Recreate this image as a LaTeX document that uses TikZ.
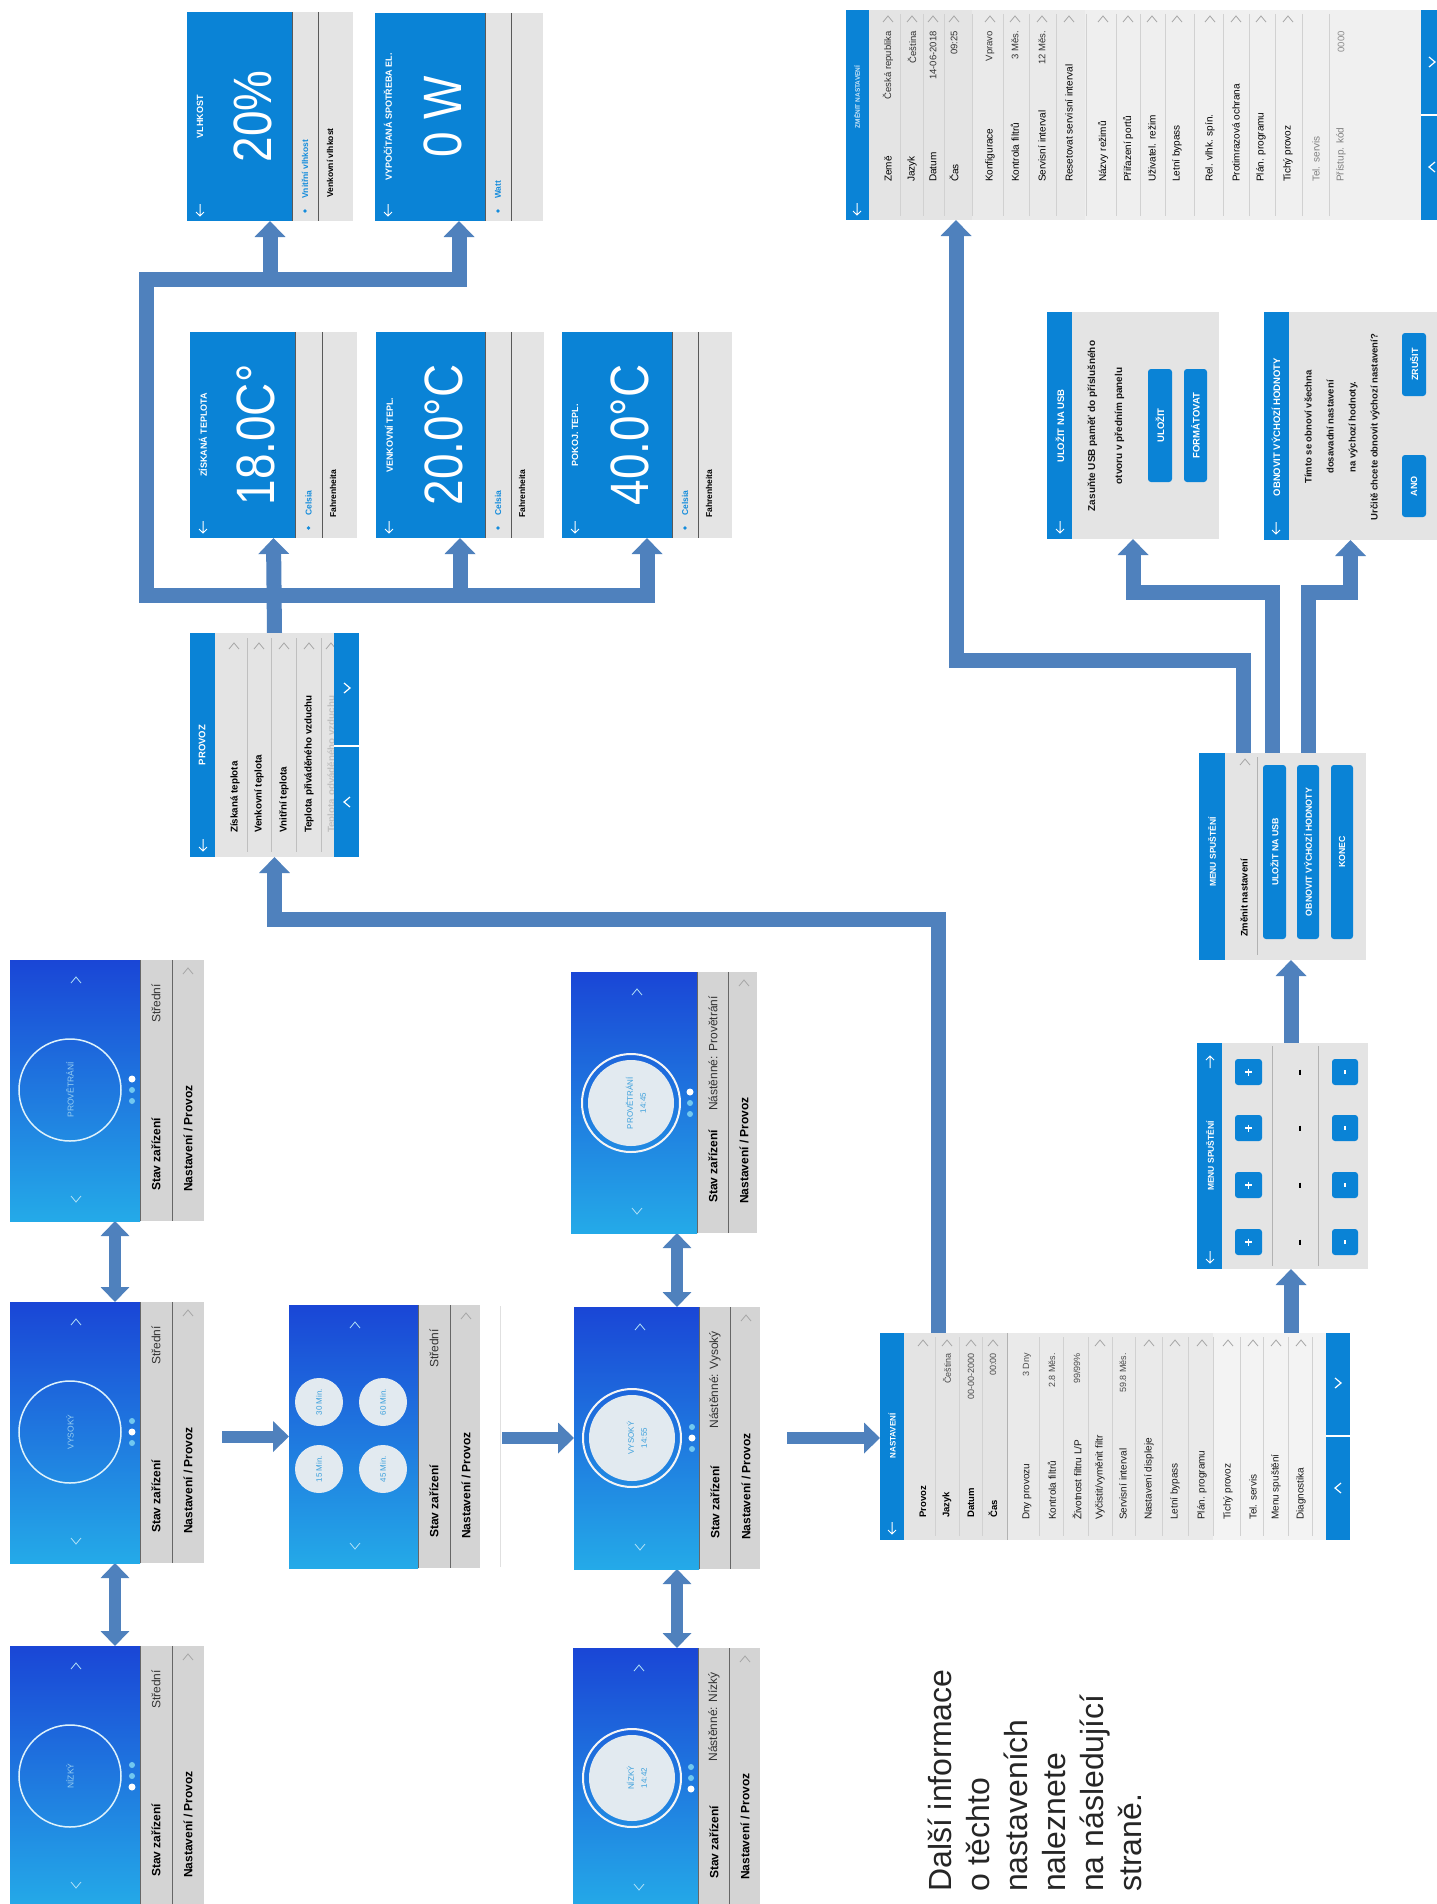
\documentclass[tikz,border=0pt]{standalone}
\usepackage{fontspec}
\setmainfont{Liberation Sans}
\newfontfamily\thinfont[FakeStretch=0.85]{Liberation Sans}
\usetikzlibrary{arrows.meta,fit}

\definecolor{scrblue}{RGB}{10,131,214}
\definecolor{panel}{RGB}{228,228,228}
\definecolor{photo}{RGB}{234,234,234}
\definecolor{stripgray}{RGB}{212,212,212}
\definecolor{hometop}{RGB}{26,70,214}
\definecolor{homebot}{RGB}{36,170,232}
\definecolor{arrowblue}{RGB}{79,129,189}
\definecolor{optblue}{RGB}{20,140,220}
\definecolor{ringtext}{RGB}{150,205,240}
\definecolor{circfill}{RGB}{226,234,240}
\definecolor{circtext}{RGB}{60,160,220}

\newcommand{\fsz}[1]{\fontsize{#1}{#1}\selectfont}
% small glyphs drawn as lines
\newcommand{\chup}[3][]{\draw[chev,#1] (#2-5,#3+3) -- (#2,#3-3) -- (#2+5,#3+3);}
\newcommand{\chdown}[3][]{\draw[chev,#1] (#2-5,#3-3) -- (#2,#3+3) -- (#2+5,#3-3);}
\newcommand{\chright}[3][]{\draw[chev,#1] (#2-3,#3-5) -- (#2+3,#3) -- (#2-3,#3+5);}
\newcommand{\chleft}[3][]{\draw[chev,#1] (#2+3,#3-5) -- (#2-3,#3) -- (#2+3,#3+5);}
\newcommand{\backarr}[2]{\draw[wline] (#1,#2-6) -- (#1,#2+6) (#1-4,#2+2) -- (#1,#2+6) -- (#1+4,#2+2);}
\newcommand{\uparr}[2]{\draw[wline] (#1,#2+6) -- (#1,#2-6) (#1-4,#2-2) -- (#1,#2-6) -- (#1+4,#2-2);}
% home screen: x0, top, blue end, divider, x1, bottom, status text
\newcommand{\homebase}[7]{%
  \shade[top color=hometop, bottom color=homebot] (#1,#2) rectangle (#3,#6);
  \fill[stripgray] (#3,#2) rectangle (#5,#6);
  \draw[black!60, line width=0.8pt] (#3,#2) -- (#3,#6) (#4,#2) -- (#4,#6);
  \chup[white!65!homebot]{#1+66}{#2+20}
  \chdown[white!65!homebot]{#1+66}{#6-22}
  \chup{#4+16}{#2+11}
  \node[lab, font=\bfseries\fsz{12}] at (#3+16,#6-30) {Stav zařízení};
  \node[lab, font=\bfseries\fsz{12}] at (#4+16,#6-29) {Nastavení / Provoz};
  \node[txt, anchor=east, text=black!80, font=\fsz{12}] at (#3+16,#2+24) {#7};
}
% value screen: x0, blue end, divider, x1, top, bottom, title, value, option
\newcommand{\valscr}[9]{%
  \fill[scrblue] (#1,#5) rectangle (#2,#6);
  \fill[panel] (#2,#5) rectangle (#4,#6);
  \draw[black!65, line width=0.8pt] (#2,#5) -- (#2,#6) (#3,#5) -- (#3,#6);
  \node[hd] at (#1+13,#5/2+#6/2) {#7};
  \node[bigval] at (#1/2+#2/2+13,#5/2+#6/2) {#8};
  \backarr{#1+13}{#6-11}
  \fill[optblue] (#2/2+#3/2,#6-10) circle (1.8);
  \node[lab, text=optblue, font=\bfseries\fsz{8.5}] at (#2/2+#3/2,#6-22) {#9};
}

\tikzset{
  scrframe/.style={inner sep=0pt, outer sep=0pt},
  txt/.style={rotate=90, inner sep=0pt},
  hd/.style={txt, text=white, font=\bfseries\fsz{9}},
  lab/.style={txt, anchor=west, font=\bfseries\fsz{9.5}},
  val/.style={txt, anchor=east, text=black!70, font=\fsz{9}},
  plab/.style={txt, anchor=west, text=black!90, font=\fsz{10}},
  btn/.style={fill=scrblue, rounded corners=3pt},
  btntxt/.style={txt, text=white, font=\bfseries\fsz{9}},
  chev/.style={black!35, line width=0.8pt},
  wline/.style={white, line width=1pt},
  rowline/.style={black!18, line width=0.6pt},
  bigval/.style={txt, text=white, font=\thinfont\fsz{54}},
  flow/.style={draw=arrowblue, line width=15pt, arrows={-Triangle[width=30pt,length=16pt]}},
  flowh/.style={draw=arrowblue, line width=12pt, arrows={-Triangle[width=30pt,length=16pt]}},
  dflow/.style={draw=arrowblue, line width=12pt, arrows={Triangle[width=28pt,length=15pt]-Triangle[width=28pt,length=15pt]}}
}

\begin{document}
\begin{tikzpicture}[x=1pt, y=-1pt]
\useasboundingbox (0,0) rectangle (1437,1904);
\fill[white] (0,0) rectangle (1437,1904);

% screen frames
\node[scrframe, fit={(10,960) (204,1221)}] (homeA) {};
\node[scrframe, fit={(10,1302) (204,1563)}] (homeB) {};
\node[scrframe, fit={(10,1646) (204,1907)}] (homeC) {};
\node[scrframe, fit={(289,1305) (480,1568)}] (timer) {};
\node[scrframe, fit={(571,972) (757,1233)}] (runE) {};
\node[scrframe, fit={(574,1307) (760,1569)}] (runF) {};
\node[scrframe, fit={(573,1648) (760,1909)}] (runG) {};
\node[scrframe, fit={(880,1333) (1350,1540)}] (nastaveni) {};
\node[scrframe, fit={(1197,1043) (1368,1269)}] (menuPlus) {};
\node[scrframe, fit={(1199,753) (1366,960)}] (menuStart) {};
\node[scrframe, fit={(846,10) (1437,220)}] (zmenit) {};
\node[scrframe, fit={(1047,312) (1219,539)}] (usb) {};
\node[scrframe, fit={(1264,312) (1437,540)}] (obnovit) {};
\node[scrframe, fit={(190,633) (359,857)}] (provoz) {};
\node[scrframe, fit={(190,332) (357,538)}] (ziskana) {};
\node[scrframe, fit={(376,332) (544,538)}] (venkovni) {};
\node[scrframe, fit={(562,332) (732,538)}] (pokoj) {};
\node[scrframe, fit={(187,12) (353,221)}] (vlhkost) {};
\node[scrframe, fit={(375,13) (543,221)}] (spotreba) {};

% connectors
\coordinate (ab) at (115,0);
\coordinate (ef) at (677,0);
\coordinate (hi) at (1291,0);
\coordinate (hn) at (938,919);
\coordinate (jk) at (956,660);
\coordinate (jbar) at (0,592);
\coordinate (j1) at (1243,0);
\coordinate (j2) at (1272,0);
\coordinate (j3) at (1308,0);
\coordinate (tbar) at (0,595);
\coordinate (rbar) at (146,279);

\draw[dflow] (ab |- homeA.south) -- (ab |- homeB.north);
\draw[dflow] (ab |- homeB.south) -- (ab |- homeC.north);
\draw[dflow] (ef |- runE.south) -- (ef |- runF.north);
\draw[dflow] (ef |- runF.south) -- (ef |- runG.north);
\draw[flowh, shorten <=18pt] (homeB.east |- timer.west) -- (timer.west);
\draw[flowh, shorten <=22pt] (timer.east |- runF.west) -- (runF.west);
\draw[flowh, shorten <=27pt] (runF.east) -- (runF.east -| nastaveni.west);
\draw[flow] (hi |- nastaveni.north) -- (hi |- menuPlus.south);
\draw[flow] (hi |- menuPlus.north) -- (hi |- menuStart.south);
\draw[flow] (j1 |- menuStart.north) |- (jk) -- (jk |- zmenit.south);
\draw[flow] (j2 |- menuStart.north) |- (usb.south |- jbar) -- (usb.south);
\draw[flow] (j3 |- menuStart.north) |- (obnovit.south |- jbar) -- (obnovit.south);
\draw[flow] (hn |- nastaveni.north) -- (hn) -| (provoz.south);
\draw[flow] (provoz.north) -- (ziskana.south);
\draw[flow] (venkovni.south |- tbar) -- (venkovni.south);
\draw[flow] (pokoj.south |- tbar) -- (pokoj.south);
\draw[arrowblue, line width=15pt, line cap=rect] (pokoj.south |- tbar) -- (rbar |- tbar) -- (rbar) -- (spotreba.south |- rbar);
\draw[flow] (spotreba.south |- rbar) -- (spotreba.south);
\draw[flow] (vlhkost.south |- rbar) -- (vlhkost.south);

% home screens, left column
\homebase{10}{960}{140}{172}{204}{1221}{Střední}
\draw[white!85!homebot, line width=1.5pt] (70,1090) circle (51);
\node[txt, text=ringtext, font=\fsz{8.5}] at (70,1090) {PROVĚTRÁNÍ};
\fill[white] (132,1079) circle (3.5);
\fill[white!35!homebot] (132,1090) circle (3) (132,1101) circle (3);

\homebase{10}{1302}{140}{172}{204}{1563}{Střední}
\draw[white!85!homebot, line width=1.5pt] (70,1432) circle (51);
\node[txt, text=ringtext, font=\fsz{8.5}] at (70,1432) {VYSOKÝ};
\fill[white] (132,1432) circle (3.5);
\fill[white!35!homebot] (132,1421) circle (3) (132,1443) circle (3);

\homebase{10}{1646}{140}{172}{204}{1907}{Střední}
\draw[white!85!homebot, line width=1.5pt] (70,1776) circle (51);
\node[txt, text=ringtext, font=\fsz{8.5}] at (70,1776) {NÍZKÝ};
\fill[white] (132,1787) circle (3.5);
\fill[white!35!homebot] (132,1765) circle (3) (132,1776) circle (3);

% timer choice
\homebase{289}{1305}{418}{450}{480}{1568}{Střední}
\fill[circfill] (319,1402) circle (24) (319,1469) circle (24) (383,1402) circle (24) (383,1469) circle (24);
\node[txt, text=circtext, font=\fsz{8}] at (319,1402) {30 Min.};
\node[txt, text=circtext, font=\fsz{8}] at (319,1469) {15 Min.};
\node[txt, text=circtext, font=\fsz{8}] at (383,1402) {60 Min.};
\node[txt, text=circtext, font=\fsz{8}] at (383,1469) {45 Min.};
\draw[black!12, line width=0.6pt] (500,1306) -- (500,1567);

% running screens
\homebase{571}{972}{697}{728}{757}{1233}{Nástěnné: Provětrání}
\draw[white!92!gray, line width=2pt] (631,1103) circle (49);
\fill[circfill] (631,1103) circle (43);
\node[txt, align=center, text=circtext, font=\fontsize{8}{13}\selectfont] at (636,1103) {PROVĚTRÁNÍ\\14:45};
\fill[white] (690,1092) circle (3.5);
\fill[white!35!homebot] (690,1103) circle (3) (690,1114) circle (3);

\homebase{574}{1307}{699}{730}{760}{1569}{Nástěnné: Vysoký}
\draw[white!92!gray, line width=2pt] (632,1438) circle (49);
\fill[circfill] (632,1438) circle (43);
\node[txt, align=center, text=circtext, font=\fontsize{8}{13}\selectfont] at (637,1438) {VYSOKÝ\\14:55};
\fill[white] (692,1438) circle (3.5);
\fill[white!35!homebot] (692,1427) circle (3) (692,1449) circle (3);

\homebase{573}{1648}{698}{729}{760}{1909}{Nástěnné: Nízký}
\draw[white!92!gray, line width=2pt] (632,1778) circle (49);
\fill[circfill] (632,1778) circle (43);
\node[txt, align=center, text=circtext, font=\fontsize{8}{13}\selectfont] at (637,1778) {NÍZKÝ\\14:42};
\fill[white] (691,1789) circle (3.5);
\fill[white!35!homebot] (691,1767) circle (3) (691,1778) circle (3);

% NASTAVENI
\fill[scrblue] (880,1333) rectangle (904,1540);
\fill[panel] (904,1333) rectangle (1007,1540);
\fill[photo] (1007,1333) rectangle (1213,1540);
\fill[photo!60!white] (1213,1333) rectangle (1326,1540);
\fill[scrblue] (1326,1333) rectangle (1350,1540);
\draw[white, line width=1.5pt] (1326,1436) -- (1350,1436);
\node[hd, font=\bfseries\fsz{8}] at (892,1436) {NASTAVENÍ};
\backarr{892}{1528}
\chright[white, line width=1.2pt]{1338}{1383}
\chleft[white, line width=1.2pt]{1338}{1488}
\foreach \x in {935,959,982,1039,1063,1088,1112,1135,1162,1188,1213,1240,1263,1288,1312}
  {\draw[rowline] (\x,1337) -- (\x,1536);}
\draw[black!30, line width=0.6pt] (1007,1333) -- (1007,1540);
\foreach \x/\lbl in {923/Provoz, 947/Jazyk, 971/Datum, 993/Čas}
  {\node[lab] at (\x,1518) {\lbl};}
\node[val] at (947,1353) {Čeština};
\node[val] at (971,1353) {00-00-2000};
\node[val] at (993,1353) {00:00};
\foreach \x in {923,947,971,993,1100,1149,1175,1202,1228,1253,1276,1301}
  {\chup{\x}{1343}}
\foreach \x/\lbl in {1027/{Dny provozu}, 1052/{Kontrola filtrů}, 1077/{Životnost filtru L/P}, 1100/{Vyčistit/vyměnit filtr}, 1123/{Servisní interval}, 1149/{Nastavení displeje}, 1175/{Letní bypass}, 1202/{Plán. programu}, 1228/{Tichý provoz}, 1253/{Tel. servis}, 1276/{Menu spuštění}, 1301/{Diagnostika}}
  {\node[plab] at (\x,1520) {\lbl};}
\node[val] at (1027,1353) {3 Dny};
\node[val] at (1052,1353) {2.8 Měs.};
\node[val] at (1077,1353) {99/99\%};
\node[val] at (1123,1353) {59.8 Měs.};

% MENU SPUSTENI with + and -
\fill[scrblue] (1197,1043) rectangle (1222,1269);
\fill[panel] (1222,1043) rectangle (1368,1269);
\node[hd, font=\bfseries\fsz{8.5}] at (1210,1156) {MENU SPUŠTĚNÍ};
\uparr{1210}{1062}
\backarr{1210}{1257}
\draw[black!30, line width=0.6pt] (1272,1046) -- (1272,1266) (1318,1046) -- (1318,1266);
\foreach \y in {1072,1128,1185,1242} {
  \fill[btn] (1235,\y-13) rectangle (1262,\y+13);
  \draw[white, line width=1.2pt] (1245,\y) -- (1252,\y) (1248.5,\y-3.5) -- (1248.5,\y+3.5);
  \draw[black, line width=1.2pt] (1300,\y-2.5) -- (1300,\y+2.5);
  \fill[btn] (1332,\y-13) rectangle (1358,\y+13);
  \draw[white, line width=1.2pt] (1345,\y-2) -- (1345,\y+2);
}

% MENU SPUSTENI with buttons
\fill[scrblue] (1199,753) rectangle (1225,960);
\fill[panel] (1225,753) rectangle (1366,960);
\node[hd, font=\bfseries\fsz{8.5}] at (1212,852) {MENU SPUŠTĚNÍ};
\draw[black!30, line width=0.6pt] (1257,757) -- (1257,955);
\chup{1245}{762}
\node[lab, font=\bfseries\fsz{9.5}] at (1244,937) {Změnit nastavení};
\fill[btn] (1263,765) rectangle (1286,939);
\fill[btn] (1297,765) rectangle (1319,939);
\fill[btn] (1331,765) rectangle (1353,939);
\node[btntxt, font=\bfseries\fsz{8.8}] at (1274.5,852) {ULOŽIT NA USB};
\node[btntxt, font=\bfseries\fsz{8.8}] at (1308,852) {OBNOVIT VÝCHOZÍ HODNOTY};
\node[btntxt, font=\bfseries\fsz{8.8}] at (1342,852) {KONEC};

% ZMENIT NASTAVENI
\fill[scrblue] (846,10) rectangle (869,220);
\fill[panel] (869,10) rectangle (972,220);
\fill[photo] (972,10) rectangle (1085,220);
\fill[panel!60!white] (1085,10) rectangle (1195,220);
\fill[photo!70!white] (1195,10) rectangle (1421,220);
\fill[scrblue] (1421,10) rectangle (1437,220);
\draw[white, line width=1.5pt] (1421,115) -- (1437,115);
\chright[white, line width=1.2pt]{1432}{62}
\chleft[white, line width=1.2pt]{1432}{167}
\node[hd, text=white!80!scrblue, font=\bfseries\fsz{6.5}] at (857,97) {ZMĚNIT NASTAVENÍ};
\backarr{857}{209}
\foreach \x in {900,923,944,972,1003,1029,1056,1086,1116,1140,1165,1194,1223,1249,1275,1302,1329}
  {\draw[rowline] (\x,14) -- (\x,216);}
\foreach \x/\lbl in {888/{Země}, 912/{Jazyk}, 933/{Datum}, 954/{Čas}, 990/{Konfigurace}, 1015/{Kontrola filtrů}, 1042/{Servisní interval}, 1069/{Resetovat servisní interval}, 1103/{Názvy režimů}, 1128/{Přiřazení portů}, 1152/{Uživatel. režim}, 1177/{Letní bypass}, 1210/{Rel. vlhk. spín.}, 1236/{Protimrazová ochrana}, 1261/{Plán. programu}, 1288/{Tichý provoz}}
  {\node[txt, anchor=west, text=black, font=\fsz{10}] at (\x,182) {\lbl};}
\node[txt, anchor=west, text=black!50, font=\fsz{10}] at (1316,182) {Tel. servis};
\node[txt, anchor=west, text=black!50, font=\fsz{10}] at (1341,182) {Přístup. kód};
\foreach \x/\v in {888/{Česká republika}, 912/{Čeština}, 933/{14-06-2018}, 954/{09:25}, 990/{Vpravo}, 1015/{3 Měs.}, 1042/{12 Měs.}}
  {\node[val, text=black!80, font=\fsz{9.5}] at (\x,31) {\v};}
\node[val, text=black!45, font=\fsz{9.5}] at (1341,31) {0000};
\foreach \x in {888,912,933,954,990,1015,1042,1069,1103,1128,1152,1177,1210,1236,1261,1288}
  {\chup{\x}{19}}

% ULOZIT NA USB
\fill[scrblue] (1047,312) rectangle (1072,539);
\fill[panel] (1072,312) rectangle (1219,539);
\node[hd, font=\bfseries\fsz{9.5}] at (1060,426) {ULOŽIT NA USB};
\backarr{1060}{527}
\node[txt, align=center, text=black!90, font=\bfseries\fontsize{10}{27}\selectfont] at (1106,426) {Zasuňte USB paměť do příslušného\\otvoru v předním panelu};
\fill[btn] (1148,369) rectangle (1172,482);
\fill[btn] (1184,369) rectangle (1207,482);
\node[btntxt, font=\bfseries\fsz{9.5}] at (1160,425.5) {ULOŽIT};
\node[btntxt, font=\bfseries\fsz{9.5}] at (1195.5,425.5) {FORMÁTOVAT};

% OBNOVIT VYCHOZI HODNOTY
\fill[scrblue] (1264,312) rectangle (1289,540);
\fill[panel] (1289,312) rectangle (1437,540);
\node[hd, font=\bfseries\fsz{9.5}] at (1276,427) {OBNOVIT VÝCHOZÍ HODNOTY};
\backarr{1276}{528}
\node[txt, align=center, text=black!90, font=\bfseries\fontsize{9.5}{22}\selectfont] at (1342,427) {Tímto se obnoví všechna\\dosavadní nastavení\\na výchozí hodnoty.\\Určitě chcete obnovit výchozí nastavení?};
\fill[btn] (1402,333) rectangle (1426,396);
\fill[btn] (1402,455) rectangle (1426,517);
\node[btntxt] at (1414,364.5) {ZRUŠIT};
\node[btntxt] at (1414,486) {ANO};

% PROVOZ
\fill[scrblue] (190,633) rectangle (215,857);
\fill[panel] (215,633) rectangle (334,857);
\node[hd, font=\bfseries\fsz{9.5}] at (202,745) {PROVOZ};
\backarr{203}{845}
\foreach \x in {247,271,296,321}
  {\draw[black!25, line width=0.6pt] (\x,638) -- (\x,852);}
\foreach \x/\lbl in {235/{Získaná teplota}, 259/{Venkovní teplota}, 284/{Vnitřní teplota}, 309/{Teplota přiváděného vzduchu}}
  {\node[lab, font=\bfseries\fsz{9.8}] at (\x,833) {\lbl};}
\node[lab, text=black!25, font=\bfseries\fsz{9.8}] at (332,833) {Teplota odváděného vzduchu};
\foreach \x in {234,259,284,309,331}
  {\chup{\x}{646}}
\fill[scrblue] (334,633) rectangle (359,857);
\draw[white, line width=1.2pt] (334,746) -- (359,746);
\chright[white, line width=1.2pt]{347}{688}
\chleft[white, line width=1.2pt]{347}{802}

% value screens
\valscr{190}{295}{322}{357}{332}{538}{ZÍSKANÁ TEPLOTA}{18.0C°}{Celsia}
\node[lab, font=\bfseries\fsz{8.5}] at (333,518) {Fahrenheita};
\valscr{376}{485}{511}{544}{332}{538}{VENKOVNÍ TEPL.}{20.0°C}{Celsia}
\node[lab, font=\bfseries\fsz{8.5}] at (522,518) {Fahrenheita};
\valscr{562}{672}{698}{732}{332}{538}{POKOJ. TEPL.}{40.0°C}{Celsia}
\node[lab, font=\bfseries\fsz{8.5}] at (709,518) {Fahrenheita};
\valscr{187}{292}{318}{353}{12}{221}{VLHKOST}{20\%}{Vnitřní vlhkost}
\node[lab, font=\bfseries\fsz{8.5}] at (330,198) {Venkovní vlhkost};
\valscr{375}{485}{511}{543}{13}{221}{VYPOČÍTANÁ SPOTŘEBA EL.}{0 W}{Watt}

% note
\node[txt, anchor=north west, align=left, text=black!85, font=\fontsize{32}{38}\selectfont] (note) at (928,1892) {Další informace\\o těchto\\nastaveních\\naleznete\\na následující\\straně.};
\end{tikzpicture}
\end{document}
